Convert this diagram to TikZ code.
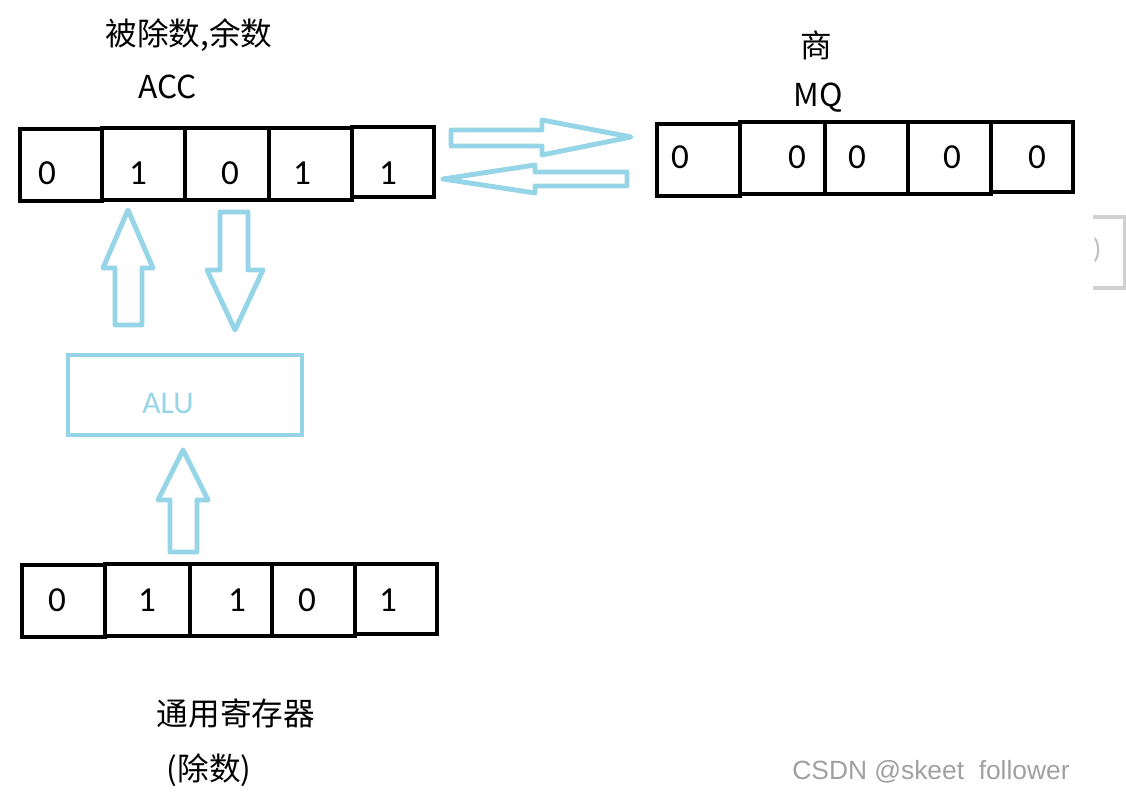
\documentclass[tikz,border=0pt]{standalone}
\usepackage{fontspec}
\setmainfont{Carlito}
\newfontfamily\cjk{Noto Sans CJK SC}
\newfontfamily\wm{Liberation Sans}
\definecolor{lblue}{RGB}{150,212,232}
\definecolor{wmgray}{RGB}{160,160,160}
\begin{document}
\begin{tikzpicture}[x=0.02cm,y=-0.02cm,
  cell/.style={draw=black,line width=2.5pt,inner sep=0pt,minimum height=1.44cm},
  digit/.style={inner sep=0pt,font=\fontsize{20}{22}\selectfont},
  lab/.style={inner sep=0pt,font=\cjk\fontsize{18}{20}\selectfont},
  blockarrow/.style={draw=lblue,line width=2.8pt,line join=round},
  alubox/.style={draw=lblue,line width=2.8pt,inner sep=0pt,minimum width=4.68cm,minimum height=1.6cm},
  alutext/.style={inner sep=0pt,text=lblue,font=\fontsize{18}{20}\selectfont}]
\useasboundingbox (0,0) rectangle (1126,803);
% labels
\node[lab] (l1) at (189,35) {被除数,余数};
\node[lab] (l2) at (168,87) {ACC};
\node[lab] (l3) at (816,45) {商};
\node[lab] (l4) at (818,98) {MQ};
\node[lab] (l5) at (236,713) {通用寄存器};
\node[lab] (l6) at (209,770) {(除数)};
% ACC register
\node[cell,minimum width=1.64cm] (a1) at (61,165) {};
\node[cell,minimum width=1.66cm] (a2) at (143.5,164) {};
\node[cell,minimum width=1.68cm] (a3) at (227,164) {};
\node[cell,minimum width=1.66cm] (a4) at (310.5,164) {};
\node[cell,minimum width=1.64cm,minimum height=1.40cm] (a5) at (393,162) {};
\node[digit] (ad1) at (47,173) {0};
\node[digit] (ad2) at (138,173) {1};
\node[digit] (ad3) at (230,173) {0};
\node[digit] (ad4) at (302,173) {1};
\node[digit] (ad5) at (388,173) {1};
% MQ register
\node[cell,minimum width=1.66cm] (m1) at (698.5,160) {};
\node[cell,minimum width=1.70cm] (m2) at (782.5,158) {};
\node[cell,minimum width=1.66cm] (m3) at (866.5,158) {};
\node[cell,minimum width=1.66cm] (m4) at (949.5,158) {};
\node[cell,minimum width=1.64cm,minimum height=1.40cm] (m5) at (1032,157) {};
\node[digit] (md1) at (680,157) {0};
\node[digit] (md2) at (797,157) {0};
\node[digit] (md3) at (857,157) {0};
\node[digit] (md4) at (952,157) {0};
\node[digit] (md5) at (1037,157) {0};
% general register
\node[cell,minimum width=1.66cm] (g1) at (63.5,601) {};
\node[cell,minimum width=1.70cm] (g2) at (147.5,600) {};
\node[cell,minimum width=1.64cm] (g3) at (231,600) {};
\node[cell,minimum width=1.66cm] (g4) at (313.5,600) {};
\node[cell,minimum width=1.64cm,minimum height=1.40cm] (g5) at (396,599) {};
\node[digit] (gd1) at (57,600) {0};
\node[digit] (gd2) at (147,600) {1};
\node[digit] (gd3) at (237,600) {1};
\node[digit] (gd4) at (307,600) {0};
\node[digit] (gd5) at (388,600) {1};
% ALU
\node[alubox] (alu) at (185,395) {};
\node[alutext] (alut) at (168,403) {ALU};
% block arrows
\draw[blockarrow] (451,130) -- (542,130) -- (542,120) -- (631,137) -- (542,155) -- (542,146) -- (451,146) -- cycle;
\draw[blockarrow] (627,172) -- (535,172) -- (535,165) -- (443,179) -- (535,193) -- (535,186) -- (627,186) -- cycle;
\draw[blockarrow] (115,325) -- (115,268) -- (103,268) -- (128,210) -- (153,268) -- (142,268) -- (142,325) -- cycle;
\draw[blockarrow] (220,212) -- (248,212) -- (248,270) -- (263,270) -- (235,330) -- (207,270) -- (220,270) -- cycle;
\draw[blockarrow] (170,552) -- (170,500) -- (158,500) -- (183,450) -- (208,500) -- (197,500) -- (197,552) -- cycle;
% right-edge fragment
\draw[black!18,line width=2pt] (1093,217) -- (1125,217) -- (1125,288) -- (1093,288);
\node[inner sep=0pt,text=black!25,font=\fontsize{16}{18}\selectfont] (frag) at (1097,250) {)};
% watermark
\node[inner sep=0pt,text=wmgray,font=\wm\fontsize{15}{17}\selectfont] (wm) at (931,772) {CSDN @skeet\ \ follower};
\end{tikzpicture}
\end{document}
